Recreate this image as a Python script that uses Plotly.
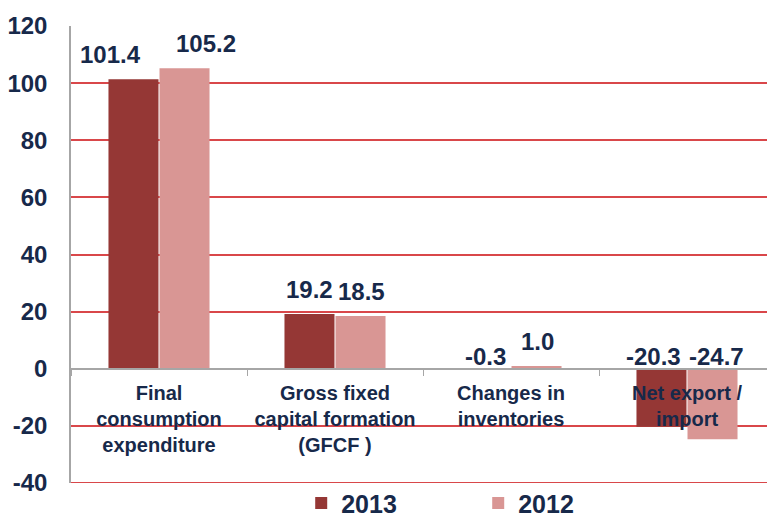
import plotly.graph_objects as go

CATEGORIES = [
    'Final<br>consumption<br>expenditure',
    'Gross fixed<br>capital formation<br>(GFCF )',
    'Changes in<br>inventories',
    'Net export /<br>import',
]
VALUES_2013 = [101.4, 19.2, -0.3, -20.3]
VALUES_2012 = [105.2, 18.5, 1.0, -24.7]
Y_TICKS = [-40, -20, 0, 20, 40, 60, 80, 100, 120]
Y_TICK_TEXT = ['-40', '-20', '0', '20', '40', '60', '80', '100', '120']

COLORS = {'2013': '#953735', '2012': '#D99694'}
TEXT_COLOR = '#17294A'
GRID_COLOR = '#D9474A'
FONT = 'Liberation Sans'

# some labels were pulled apart by hand in the original
LABEL_NUDGE = {(0, 0): -23, (0, 1): 21, (3, 0): -8, (3, 1): 3}

fig = go.Figure()

for name, vals in [('2013', VALUES_2013), ('2012', VALUES_2012)]:
    fig.add_trace(go.Bar(
        x=CATEGORIES,
        y=vals,
        name=name,
        marker=dict(color=COLORS[name], line=dict(width=0)),
    ))

# data labels sit above the bar top, or just above zero for negatives
for s, (vals, shift) in enumerate([(VALUES_2013, -26), (VALUES_2012, 26)]):
    for i, (cat, v) in enumerate(zip(CATEGORIES, vals)):
        fig.add_annotation(
            x=cat, y=max(v, 0), text=f"{v:.1f}",
            xshift=shift + LABEL_NUDGE.get((i, s), 0),
            yshift=9 if v > 0 else -3,
            yanchor='bottom', showarrow=False,
            font=dict(family=FONT, size=24, color=TEXT_COLOR, weight='bold'),
        )

# bottom frame line at -40 (plotly skips the gridline at the range edge)
fig.add_shape(
    type='line', xref='paper', yref='y',
    x0=0, x1=1, y0=min(Y_TICKS), y1=min(Y_TICKS),
    line=dict(color=GRID_COLOR, width=2),
)

# the page body has an 8px margin, so the figure is 8px smaller than the window
fig.update_layout(
    width=767,
    height=512,
    margin=dict(l=63, r=0, t=18, b=37, autoexpand=False),
    paper_bgcolor='white',
    plot_bgcolor='white',
    barmode='group',
    bargap=0.42,
    bargroupgap=0.02,
    showlegend=True,
    legend=dict(
        orientation='h',
        x=0.327, xanchor='left',
        y=0.006, yanchor='top',
        entrywidth=132,
        bgcolor='rgba(0,0,0,0)',
        font=dict(family=FONT, size=25, color=TEXT_COLOR, weight='bold'),
    ),
    xaxis=dict(
        anchor='free',
        position=0.25,
        automargin=False,
        showline=True,
        linecolor='#A6A6A6',
        linewidth=1.5,
        ticks='outside',
        tickson='boundaries',
        ticklen=6,
        tickcolor='#A6A6A6',
        ticklabelstandoff=6,
        showgrid=False,
        tickfont=dict(family=FONT, size=20, color=TEXT_COLOR, weight='bold'),
        layer='above traces',
    ),
    yaxis=dict(
        range=[-40, 120],
        tickvals=Y_TICKS,
        ticktext=Y_TICK_TEXT,
        automargin=False,
        showgrid=True,
        gridcolor=GRID_COLOR,
        gridwidth=1.5,
        zeroline=False,
        showline=True,
        linecolor='#A6A6A6',
        linewidth=1.5,
        ticks='',
        ticklabelstandoff=17,
        tickfont=dict(family=FONT, size=24, color=TEXT_COLOR, weight='bold'),
    ),
)

fig.write_html("out.html")
